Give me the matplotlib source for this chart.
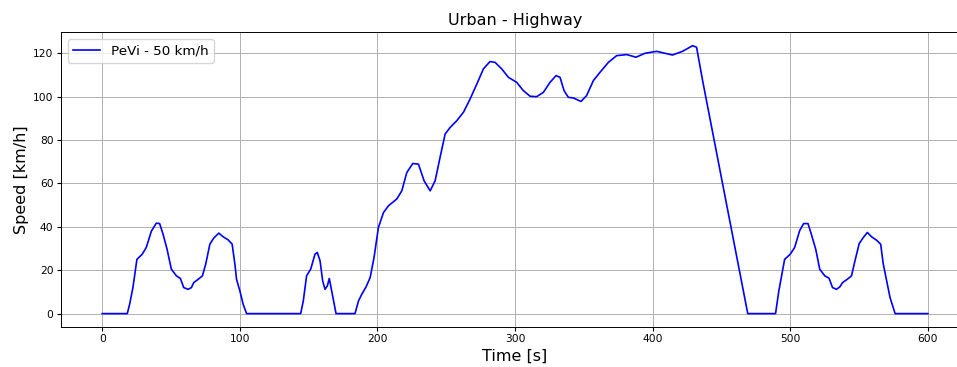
import matplotlib
matplotlib.use("Agg")
import matplotlib.pyplot as plt

# speed profile (time in s, speed in km/h)
time_s = [0, 18.2, 19.9, 22.3, 25.2, 29.1, 32.0, 35.7, 39.3, 41.7, 44.2, 47.1, 50.2, 53.9,
          56.8, 59.2, 62.4, 64.8, 66.5, 69.7, 72.8, 75.2, 78.2, 81.0, 84.7, 87.9, 91.5, 94.4,
          96.4, 97.6, 100.0, 102.4, 104.9,
          144.2, 146.1, 148.5, 151.5, 154.6, 156.3, 158.3, 160.2, 161.9, 163.6, 165.0, 166.7,
          169.9,
          183.7, 186.2, 188.6, 191.7, 194.7, 197.5, 200.7, 204.4, 208.0, 214.0, 217.7, 221.3,
          225.7, 229.8, 233.9, 238.3, 241.9, 245.5, 249.2, 252.8, 257.6, 262.5, 267.3, 272.2,
          277.0, 281.8, 285.5, 290.3, 295.2, 301.2, 306.0, 310.9, 315.7, 320.6, 325.4, 329.8,
          332.7, 335.6, 338.7, 342.4, 347.9, 352.0, 356.9, 361.7, 367.8, 373.8, 381.1, 387.9,
          394.4, 402.9, 409.0, 414.4, 421.7, 429.0, 431.9, 436.3, 469.1,
          489.3, 491.7, 495.9, 500.0, 503.2, 506.8, 509.7, 512.9, 515.3, 518.5, 521.4, 525.1,
          528.2, 530.7, 533.6, 536.0, 538.0, 541.4, 544.5, 547.0, 550.1, 553.0, 556.0, 559.1,
          562.8, 565.7, 567.6, 570.1, 572.5, 576.2, 600.0]
speed_kmh = [0, 0, 4.3, 12.0, 25.0, 27.4, 30.5, 38.0, 41.7, 41.5, 36.6, 29.7, 20.5, 17.4,
             16.2, 12.0, 11.2, 12.0, 14.3, 15.8, 17.4, 22.8, 32.0, 34.8, 37.1, 35.4, 34.0, 32.0,
             22.8, 15.8, 10.5, 4.3, 0,
             0, 5.8, 17.4, 20.5, 27.4, 28.2, 24.3, 15.0, 11.2, 12.8, 16.2, 10.5,
             0,
             0, 5.8, 8.9, 12.3, 16.6, 25.8, 39.7, 46.6, 49.7, 52.8, 56.6, 65.0,
             69.2, 68.9, 61.2, 56.6, 61.2, 72.0, 82.8, 85.8, 88.9, 92.8, 98.9, 105.8,
             112.8, 116.2, 115.8, 112.8, 108.9, 106.6, 102.8, 100.2, 100.0, 102.0, 106.6, 109.7,
             108.9, 102.8, 99.7, 99.4, 97.8, 100.5, 107.4, 111.2, 115.8, 118.9, 119.4, 118.2,
             120.0, 120.9, 120.0, 119.2, 120.9, 123.5, 122.8, 107.4, 0,
             0, 10.5, 25.0, 27.4, 30.5, 38.2, 41.5, 41.5, 36.6, 29.7, 20.5, 17.4,
             16.3, 12.0, 11.2, 12.3, 14.3, 15.8, 17.4, 24.3, 32.3, 35.0, 37.4, 35.4,
             33.8, 32.0, 22.8, 15.0, 7.4, 0, 0]

# the reference looks like a larger figure scaled down, so shrink everything a bit
plt.rcParams["xtick.labelsize"] = 7.7
plt.rcParams["ytick.labelsize"] = 7.7
plt.rcParams["xtick.major.size"] = 2.7
plt.rcParams["ytick.major.size"] = 2.7
plt.rcParams["xtick.major.pad"] = 2.7
plt.rcParams["ytick.major.pad"] = 2.7
plt.rcParams["grid.linewidth"] = 0.7
plt.rcParams["axes.linewidth"] = 0.7

fig = plt.figure(figsize=(9.57, 3.67), dpi=100)
ax = fig.add_axes([0.0637, 0.109, 0.949, 0.803])
ax.plot(time_s, speed_kmh, color="b", linewidth=1.2, label="PeVi - 50 km/h")
ax.grid(True)
ax.set_title("Urban - Highway", fontsize=11.5, pad=5)
ax.set_xlabel("Time [s]", fontsize=11.5, labelpad=3)
ax.set_ylabel("Speed [km/h]", fontsize=11.5, labelpad=3)
ax.legend(loc="upper left", fontsize=9.7)
ax.spines["right"].set_visible(False)

plt.savefig("out.png", dpi=100)
